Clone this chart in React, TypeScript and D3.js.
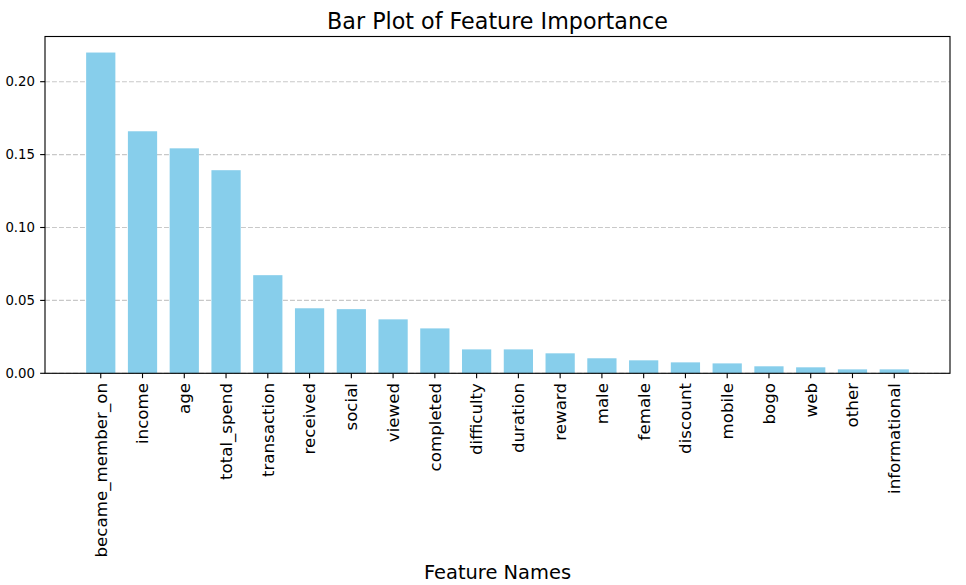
import React, { useEffect, useRef } from "react";
import * as d3 from "d3";

const features = [
  "became_member_on", "income", "age", "total_spend", "transaction", "received",
  "social", "viewed", "completed", "difficulty", "duration", "reward", "male",
  "female", "discount", "mobile", "bogo", "web", "other", "informational",
];
const importances = [
  0.2200, 0.1660, 0.1543, 0.1393, 0.0673, 0.0446, 0.0440, 0.0370, 0.0308, 0.0164,
  0.0164, 0.0137, 0.0103, 0.0089, 0.0075, 0.0068, 0.0048, 0.0041, 0.0027, 0.0027,
];
const yTicks = [0.0, 0.05, 0.1, 0.15, 0.2];

const W = 966, H = 585;
const M = { left: 45, right: 950, top: 36.5, bottom: 373.3 };
const PT = 100 / 72;

export default function App() {
  const ref = useRef<SVGSVGElement>(null);
  useEffect(() => {
    const svg = d3.select(ref.current);
    svg.selectAll("*").remove();
    const font = "DejaVu Sans, sans-serif";
    const n = features.length;
    const bw = 0.7;
    const pad = (n - 1 + bw) * 0.05;
    const x = d3.scaleLinear().domain([-bw / 2 - pad, n - 1 + bw / 2 + pad]).range([M.left, M.right]);
    const ymax = d3.max(importances)! * 1.05;
    const y = d3.scaleLinear().domain([0, ymax]).range([M.bottom, M.top]);
    const tl = 3.5 * PT;

    // grid
    svg.append("g").selectAll("line").data(yTicks).join("line")
      .attr("x1", M.left).attr("x2", M.right)
      .attr("y1", (d) => y(d)).attr("y2", (d) => y(d))
      .attr("stroke", "#b0b0b0").attr("stroke-opacity", 0.7)
      .attr("stroke-width", 0.8 * PT).attr("stroke-dasharray", "4.9,2.1");

    // bars
    svg.append("g").selectAll("rect").data(importances).join("rect")
      .attr("x", (_, i) => x(i - bw / 2))
      .attr("width", (_, i) => x(i + bw / 2) - x(i - bw / 2))
      .attr("y", (d) => y(d))
      .attr("height", (d) => y(0) - y(d))
      .attr("fill", "#87CEEB");

    // frame
    svg.append("rect")
      .attr("x", M.left).attr("y", M.top)
      .attr("width", M.right - M.left).attr("height", M.bottom - M.top)
      .attr("fill", "none").attr("stroke", "black").attr("stroke-width", 0.8 * PT);

    // y axis ticks
    const yg = svg.append("g");
    yg.selectAll("line").data(yTicks).join("line")
      .attr("x1", M.left - tl).attr("x2", M.left)
      .attr("y1", (d) => y(d)).attr("y2", (d) => y(d))
      .attr("stroke", "black").attr("stroke-width", 0.8 * PT);
    yg.selectAll("text").data(yTicks).join("text")
      .attr("x", M.left - 10).attr("y", (d) => y(d))
      .attr("dy", "0.36em").attr("text-anchor", "end")
      .attr("font-family", font).attr("font-size", 13.3)
      .text((d) => d3.format(".2f")(d));

    // x axis ticks
    const xg = svg.append("g");
    xg.selectAll("line").data(features).join("line")
      .attr("x1", (_, i) => x(i)).attr("x2", (_, i) => x(i))
      .attr("y1", M.bottom).attr("y2", M.bottom + tl)
      .attr("stroke", "black").attr("stroke-width", 0.8 * PT);
    xg.selectAll("text").data(features).join("text")
      .attr("transform", (_, i) => `translate(${x(i)},${M.bottom + 2 * tl}) rotate(-90)`)
      .attr("dy", "0.35em").attr("text-anchor", "end")
      .attr("font-family", font).attr("font-size", 12 * PT)
      .text((d) => d);

    svg.append("text")
      .attr("x", (M.left + M.right) / 2).attr("y", 29)
      .attr("text-anchor", "middle").attr("font-family", font).attr("font-size", 16 * PT)
      .text("Bar Plot of Feature Importance");

    svg.append("text")
      .attr("x", (M.left + M.right) / 2).attr("y", 579)
      .attr("text-anchor", "middle").attr("font-family", font).attr("font-size", 14 * PT)
      .text("Feature Names");
  }, []);
  return (
    <div style={{ position: "fixed", left: 0, top: 0 }}>
      <svg ref={ref} width={W} height={H} style={{ display: "block", background: "white" }} />
    </div>
  );
}
